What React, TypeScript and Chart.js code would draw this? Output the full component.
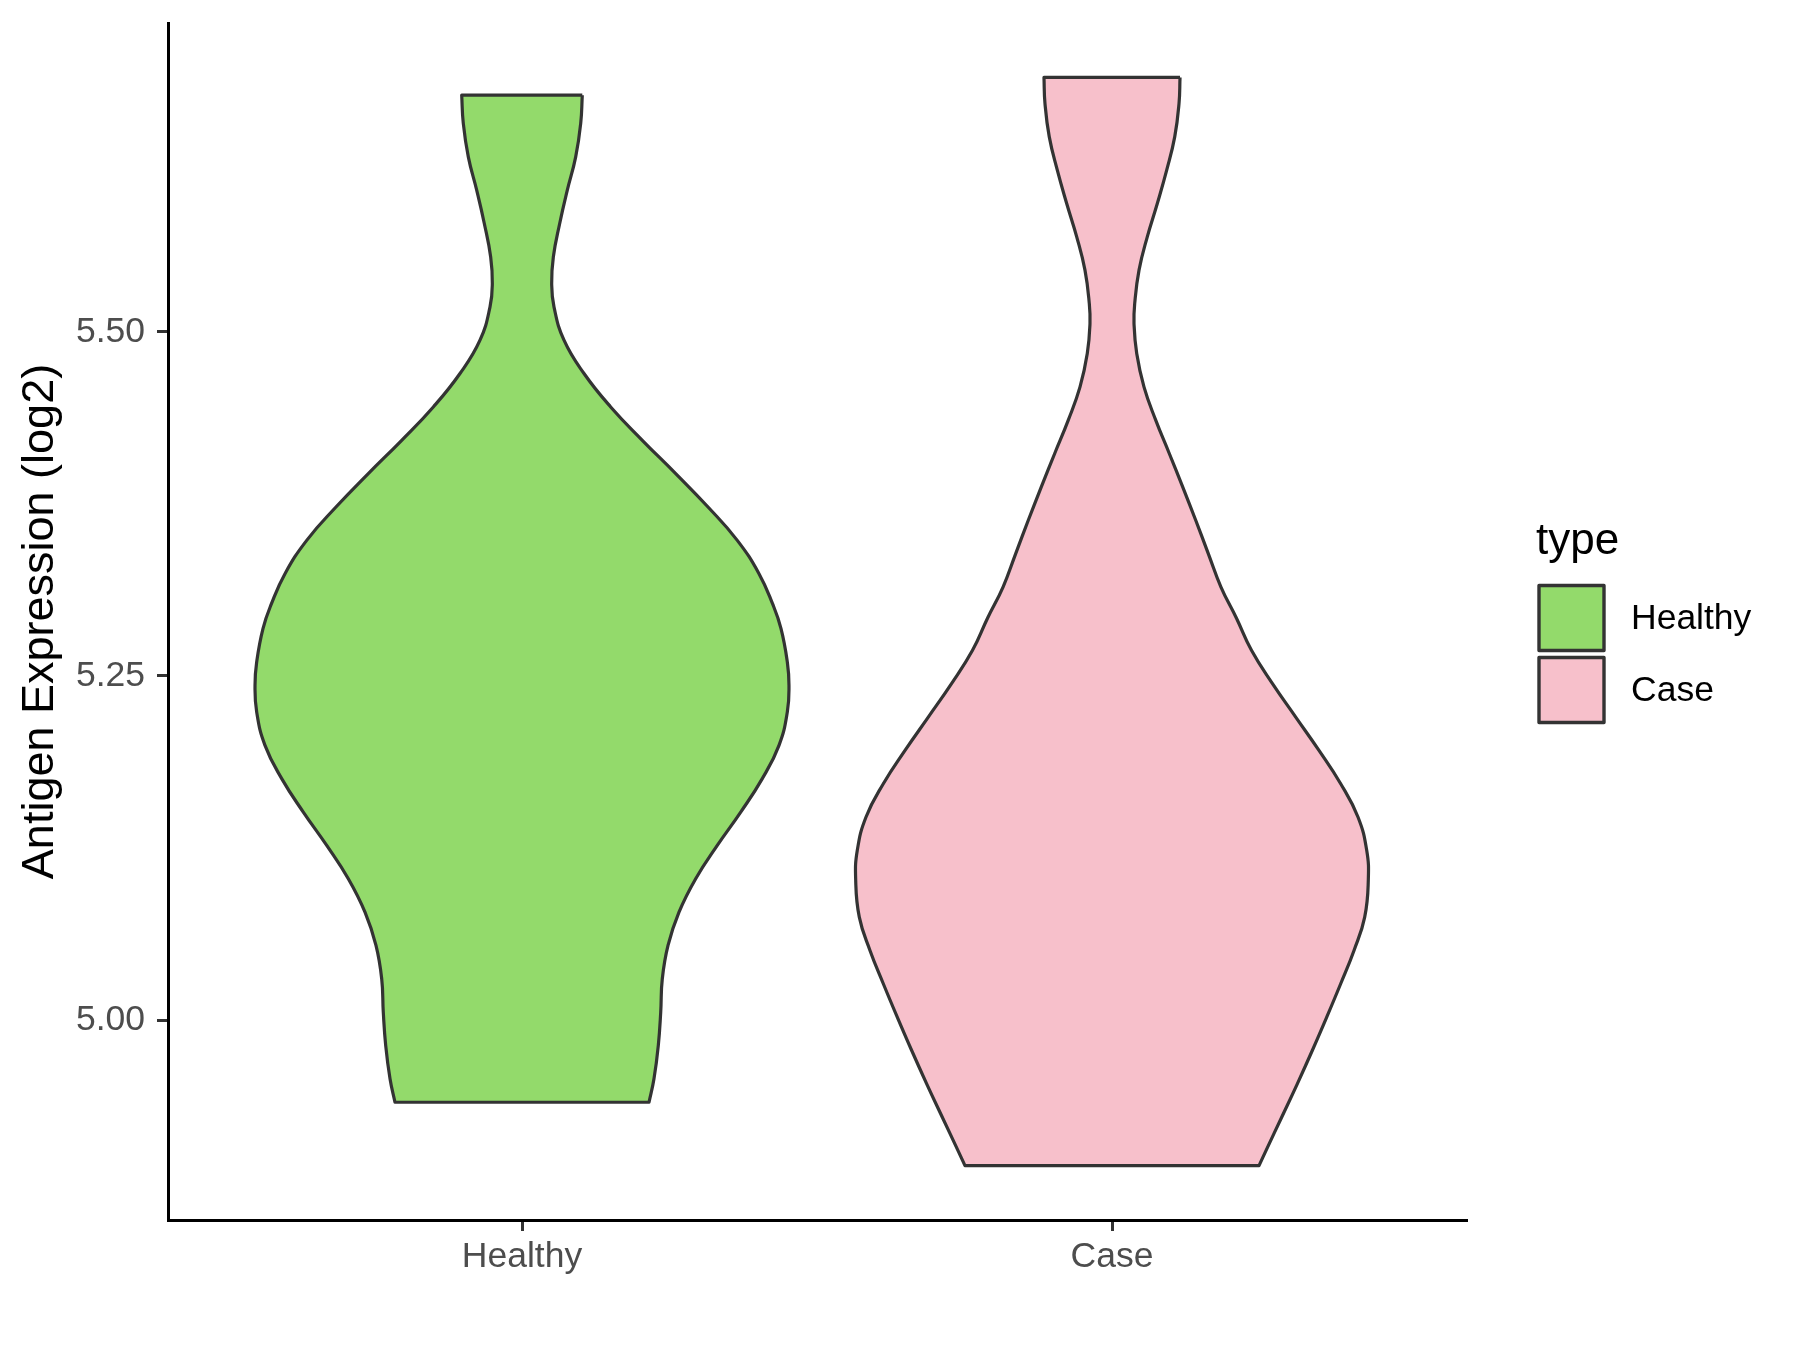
import React, { useEffect, useRef } from "react";
import { Chart, registerables } from "chart.js";

Chart.register(...registerables);

const categories = ["Healthy", "Case"];
const fillColors = ["#93DA6B", "#F7C0CB"];
const outlineColor = "#333333";
const yTicks = [5.0, 5.25, 5.5];
const yTitle = "Antigen Expression (log2)";
const legendTitle = "type";

// Healthy violin outline (top to bottom): expression values and half-widths (category units)
const healthyY = [5.6719, 5.6514, 5.6271, 5.6029, 5.5787, 5.5544, 5.5351, 5.5181, 5.4939, 5.4697, 5.4454, 5.4212, 5.3970, 5.3727, 5.3485, 5.3243, 5.3025, 5.2844, 5.2601, 5.2432, 5.2238, 5.1996, 5.1754, 5.1511, 5.1269, 5.1027, 5.0784, 5.0542, 5.0300, 5.0057, 4.9815, 4.9573, 4.9403];
const healthyHalfWidth = [0.1022, 0.0995, 0.0910, 0.0768, 0.0639, 0.0531, 0.0503, 0.0542, 0.0712, 0.1051, 0.1503, 0.2039, 0.2605, 0.3153, 0.3649, 0.4017, 0.4246, 0.4390, 0.4497, 0.4525, 0.4497, 0.4356, 0.4073, 0.3707, 0.3310, 0.2944, 0.2661, 0.2475, 0.2378, 0.2351, 0.2310, 0.2237, 0.2153];

// Case violin outline (top to bottom)
const caseY = [5.6848, 5.6659, 5.6416, 5.6174, 5.5932, 5.5690, 5.5448, 5.5206, 5.5060, 5.4842, 5.4600, 5.4358, 5.4116, 5.3873, 5.3631, 5.3389, 5.3146, 5.2919, 5.2686, 5.2444, 5.2201, 5.1959, 5.1717, 5.1475, 5.1233, 5.1015, 5.0748, 5.0506, 5.0264, 5.0021, 4.9779, 4.9537, 4.9294, 4.9052, 4.8943];
const caseHalfWidth = [0.1153, 0.1136, 0.1063, 0.0927, 0.0768, 0.0598, 0.0458, 0.0385, 0.0373, 0.0419, 0.0542, 0.0741, 0.0971, 0.1198, 0.1419, 0.1632, 0.1847, 0.2110, 0.2364, 0.2720, 0.3114, 0.3508, 0.3876, 0.4169, 0.4317, 0.4344, 0.4283, 0.4102, 0.3876, 0.3639, 0.3395, 0.3141, 0.2876, 0.2610, 0.2492];

const violinYs = [healthyY, caseY];
const violinWidths = [healthyHalfWidth, caseHalfWidth];

const FONT = "'Liberation Sans', Arial, Helvetica, sans-serif";

function violinPolygon(center: number, ys: number[], hw: number[]) {
  const n = ys.length;
  const pts: { x: number; y: number }[] = [];
  pts.push({ x: center + hw[0], y: ys[0] });
  pts.push({ x: center - hw[0], y: ys[0] });
  pts.push({ x: center - hw[0], y: ys[0] });
  for (let k = 1; k < n - 1; k++) pts.push({ x: center - hw[k], y: ys[k] });
  pts.push({ x: center - hw[n - 1], y: ys[n - 1] });
  pts.push({ x: center - hw[n - 1], y: ys[n - 1] });
  pts.push({ x: center + hw[n - 1], y: ys[n - 1] });
  pts.push({ x: center + hw[n - 1], y: ys[n - 1] });
  for (let k = n - 2; k >= 1; k--) pts.push({ x: center + hw[k], y: ys[k] });
  pts.push({ x: center + hw[0], y: ys[0] });
  pts.push({ x: center + hw[0], y: ys[0] });
  return pts;
}

const allY = ([] as number[]).concat(...violinYs);
const dataMin = Math.min(...allY);
const dataMax = Math.max(...allY);
const pad = (dataMax - dataMin) * 0.05;

const legendPlugin = {
  id: "customLegend",
  afterDraw(chart: any) {
    const ctx = chart.ctx;
    ctx.save();
    ctx.fillStyle = "#000000";
    ctx.font = `44px ${FONT}`;
    ctx.textAlign = "left";
    ctx.textBaseline = "alphabetic";
    ctx.fillText(legendTitle, 1536, 554);
    chart.data.datasets.forEach((ds: any, i: number) => {
      const top = 585.5 + i * 72;
      ctx.fillStyle = ds.backgroundColor;
      ctx.fillRect(1539, top, 65, 65);
      ctx.strokeStyle = outlineColor;
      ctx.lineWidth = 3.4;
      ctx.lineJoin = "round";
      ctx.strokeRect(1539, top, 65, 65);
      ctx.fillStyle = "#000000";
      ctx.font = `35.5px ${FONT}`;
      ctx.textBaseline = "middle";
      ctx.fillText(ds.label, 1631, top + 33.5);
    });
    ctx.restore();
  },
};

export default function App() {
  const canvasRef = useRef<HTMLCanvasElement | null>(null);

  useEffect(() => {
    document.body.style.margin = "0";
    const canvas = canvasRef.current;
    if (!canvas) return;
    const datasets = categories.map((cat, i) => ({
      label: cat,
      data: violinPolygon(i + 1, violinYs[i], violinWidths[i]),
      showLine: true,
      fill: "shape",
      backgroundColor: fillColors[i],
      borderColor: outlineColor,
      borderWidth: 3.2,
      borderJoinStyle: "round",
      pointRadius: 0,
      pointHoverRadius: 0,
      tension: 0.45,
    }));

    const chart = new Chart(canvas, {
      type: "scatter",
      data: { datasets } as any,
      options: {
        responsive: false,
        animation: false,
        events: [],
        layout: { padding: { left: 0, top: 23, right: 334, bottom: 0 } },
        plugins: {
          legend: { display: false },
          tooltip: { enabled: false },
        },
        scales: {
          x: {
            type: "linear",
            min: 0.4,
            max: 2.6,
            afterBuildTicks: (scale: any) => {
              scale.ticks = categories.map((_, i) => ({ value: i + 1 }));
            },
            afterFit: (scale: any) => {
              scale.height = 130;
              scale.paddingLeft = 0;
              scale.paddingRight = 0;
            },
            ticks: {
              callback: (v: any) => categories[Math.round(Number(v)) - 1],
              font: { family: FONT, size: 35.5 },
              color: "#4D4D4D",
              padding: 5,
              autoSkip: false,
              maxRotation: 0,
            },
            grid: {
              drawOnChartArea: false,
              drawTicks: true,
              tickLength: 11,
              color: outlineColor,
              lineWidth: 3,
            },
            border: { display: true, color: "#000000", width: 3 },
          },
          y: {
            type: "linear",
            min: dataMin - pad,
            max: dataMax + pad,
            afterBuildTicks: (scale: any) => {
              scale.ticks = yTicks.map((v) => ({ value: v }));
            },
            afterFit: (scale: any) => {
              scale.width = 168;
              scale.paddingTop = 0;
              scale.paddingBottom = 0;
            },
            ticks: {
              callback: (v: any) => Number(v).toFixed(2),
              font: { family: FONT, size: 35.5 },
              color: "#4D4D4D",
              padding: 12,
              autoSkip: false,
            },
            grid: {
              drawOnChartArea: false,
              drawTicks: true,
              tickLength: 11,
              color: outlineColor,
              lineWidth: 3,
            },
            border: { display: true, color: "#000000", width: 3 },
            title: {
              display: true,
              text: yTitle,
              font: { family: FONT, size: 45 },
              color: "#000000",
              padding: { top: 14, bottom: 0 },
            },
          },
        },
      } as any,
      plugins: [legendPlugin],
    });
    return () => chart.destroy();
  }, []);

  return (
    <div style={{ position: "absolute", left: 0, top: 0, width: 1800, height: 1350, background: "#ffffff" }}>
      <canvas ref={canvasRef} width={1800} height={1350} style={{ width: 1800, height: 1350, display: "block" }} />
    </div>
  );
}
